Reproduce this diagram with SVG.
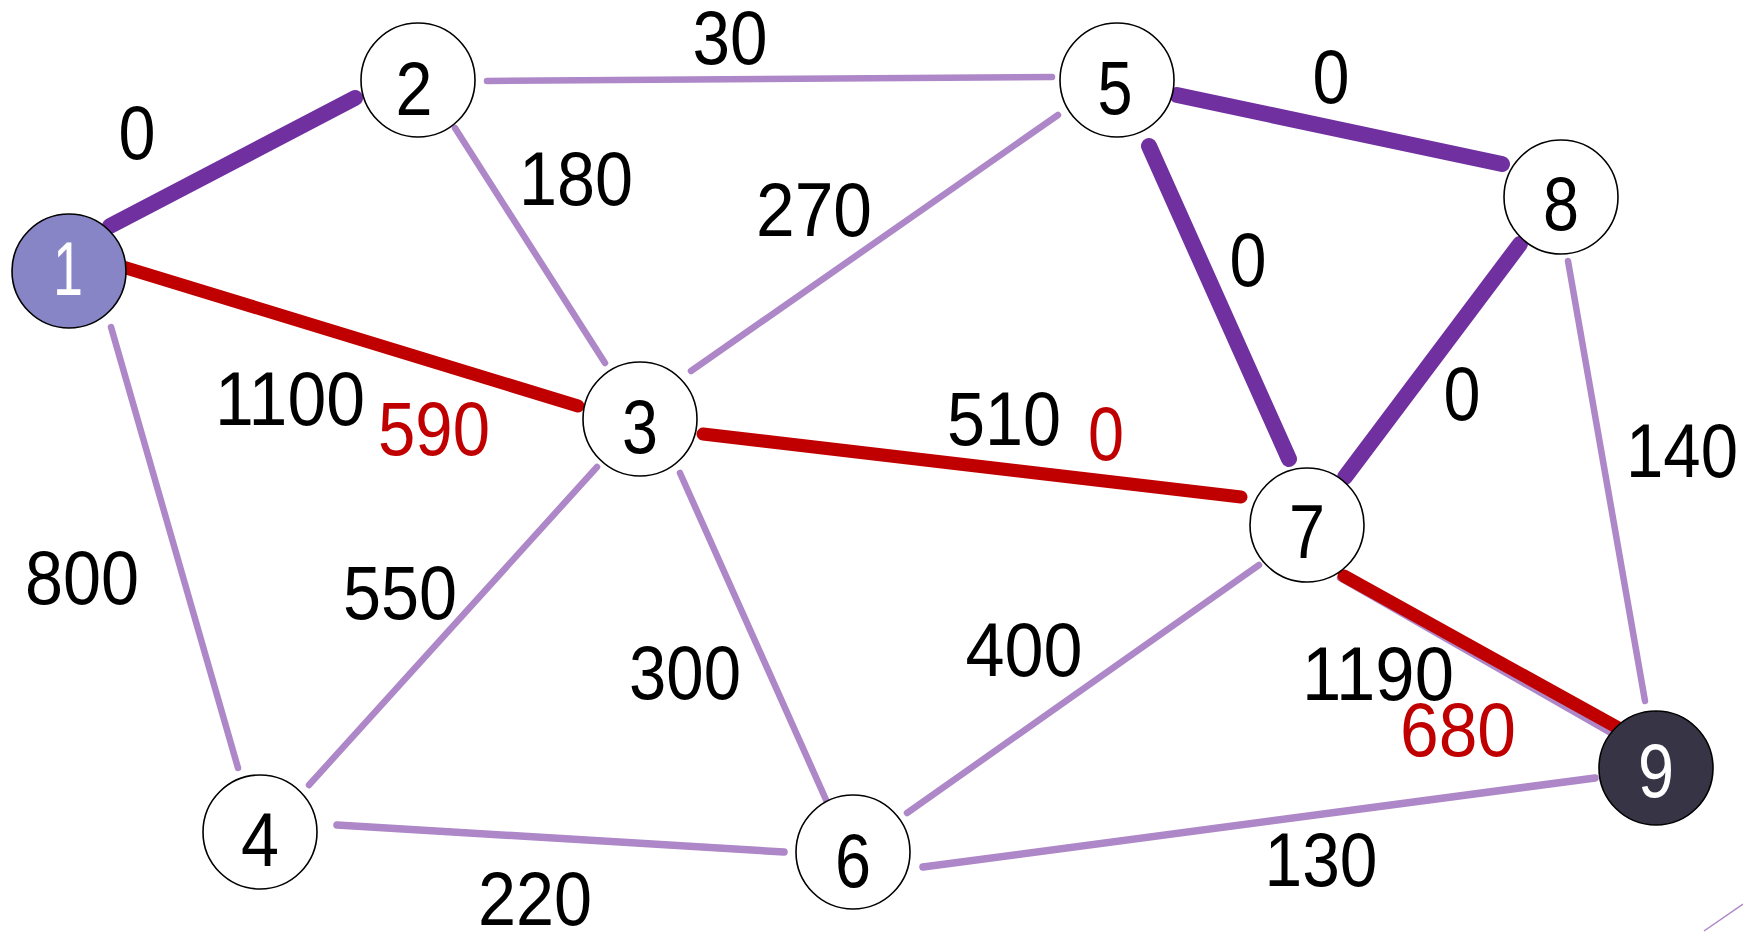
<svg xmlns="http://www.w3.org/2000/svg" width="1743" height="932" viewBox="0 0 1743 932">
<style>
.lt{stroke:#ad87c7;stroke-width:6.5;stroke-linecap:round;fill:none}
.lw{stroke-width:7.5}
.pp{stroke:#7030a0;stroke-width:16;stroke-linecap:round;fill:none}
.rd{stroke:#c00000;stroke-width:13;stroke-linecap:round;fill:none}
.nd{fill:#ffffff;stroke:#000000;stroke-width:1.6}
text{font-family:"Liberation Sans",Arial,sans-serif;font-size:76px;text-anchor:middle;fill:#000000}
.r{fill:#c00000}
.w{fill:#ffffff}
</style>
<rect width="1743" height="932" fill="#ffffff"/>
<line x1="1704" y1="931" x2="1743" y2="904" stroke="#ad87c7" stroke-width="1.5"/>
<g id="connectors">
<line class="lt" x1="487" y1="81" x2="1052" y2="77"/>
<line class="lt" x1="455" y1="128" x2="605" y2="363"/>
<line class="lt" x1="691" y1="371" x2="1058" y2="115"/>
<line class="lt" x1="111" y1="327" x2="238" y2="768"/>
<line class="lt" x1="597" y1="467" x2="309" y2="785"/>
<line class="lt" x1="680" y1="473" x2="827" y2="802"/>
<line class="lt lw" x1="337" y1="825" x2="784" y2="852"/>
<line class="lt" x1="1259" y1="565" x2="907" y2="813"/>
<line class="lt lw" x1="923" y1="867" x2="1595" y2="778"/>
<line class="lt" x1="1568" y1="261" x2="1645" y2="701"/>
<line class="lt" x1="1340" y1="578" x2="1616" y2="736"/>
<line class="pp" x1="110" y1="226" x2="355" y2="98"/>
<line class="pp" x1="1177" y1="95" x2="1502" y2="164"/>
<line class="pp" x1="1149" y1="146" x2="1289" y2="459"/>
<line class="pp" x1="1520" y1="244" x2="1345" y2="477"/>
<line class="rd" x1="123" y1="267" x2="578" y2="406"/>
<line class="rd" x1="703" y1="434" x2="1241" y2="497"/>
<line class="rd" x1="1344" y1="576" x2="1622" y2="730"/>
</g>
<g id="edge-labels">
<text x="137" y="159" textLength="37" lengthAdjust="spacingAndGlyphs">0</text>
<text x="576" y="205" textLength="114" lengthAdjust="spacingAndGlyphs">180</text>
<text x="730" y="64" textLength="75" lengthAdjust="spacingAndGlyphs">30</text>
<text x="814" y="236" textLength="116" lengthAdjust="spacingAndGlyphs">270</text>
<text x="290" y="425" textLength="150" lengthAdjust="spacingAndGlyphs">1100</text>
<text class="r" x="434" y="455" textLength="112" lengthAdjust="spacingAndGlyphs">590</text>
<text x="1331" y="103" textLength="37" lengthAdjust="spacingAndGlyphs">0</text>
<text x="1248" y="286" textLength="37" lengthAdjust="spacingAndGlyphs">0</text>
<text x="1462" y="420" textLength="37" lengthAdjust="spacingAndGlyphs">0</text>
<text x="1682" y="477" textLength="112" lengthAdjust="spacingAndGlyphs">140</text>
<text x="1004" y="445" textLength="114" lengthAdjust="spacingAndGlyphs">510</text>
<text class="r" x="1106" y="460" textLength="36" lengthAdjust="spacingAndGlyphs">0</text>
<text x="82" y="604" textLength="114" lengthAdjust="spacingAndGlyphs">800</text>
<text x="400" y="619" textLength="114" lengthAdjust="spacingAndGlyphs">550</text>
<text x="685" y="699" textLength="112" lengthAdjust="spacingAndGlyphs">300</text>
<text x="535" y="925" textLength="114" lengthAdjust="spacingAndGlyphs">220</text>
<text x="1024" y="676" textLength="117" lengthAdjust="spacingAndGlyphs">400</text>
<text x="1378" y="700" textLength="152" lengthAdjust="spacingAndGlyphs">1190</text>
<text class="r" x="1458" y="756" textLength="116" lengthAdjust="spacingAndGlyphs">680</text>
<text x="1321" y="886" textLength="113" lengthAdjust="spacingAndGlyphs">130</text>
</g>
<g id="node1"><circle cx="69" cy="271" r="57" fill="#8785c5" stroke="#000000" stroke-width="1.6"/><text class="w" x="68" y="295" textLength="30" lengthAdjust="spacingAndGlyphs">1</text></g>
<g id="node2"><circle class="nd" cx="418" cy="80" r="57"/><text x="414" y="115" textLength="37" lengthAdjust="spacingAndGlyphs">2</text></g>
<g id="node3"><circle class="nd" cx="640" cy="419" r="57"/><text x="640" y="453" textLength="36" lengthAdjust="spacingAndGlyphs">3</text></g>
<g id="node4"><circle class="nd" cx="260" cy="832" r="57"/><text x="260" y="866" textLength="38" lengthAdjust="spacingAndGlyphs">4</text></g>
<g id="node5"><circle class="nd" cx="1117" cy="80" r="57"/><text x="1115" y="114" textLength="35" lengthAdjust="spacingAndGlyphs">5</text></g>
<g id="node6"><circle class="nd" cx="853" cy="852" r="57"/><text x="853" y="887" textLength="36" lengthAdjust="spacingAndGlyphs">6</text></g>
<g id="node7"><circle class="nd" cx="1307" cy="525" r="57"/><text x="1307" y="558" textLength="36" lengthAdjust="spacingAndGlyphs">7</text></g>
<g id="node8"><circle class="nd" cx="1561" cy="197" r="57"/><text x="1561" y="230" textLength="36" lengthAdjust="spacingAndGlyphs">8</text></g>
<g id="node9"><circle cx="1656" cy="768" r="57" fill="#373545" stroke="#000000" stroke-width="1.6"/><text class="w" x="1656" y="797" textLength="36" lengthAdjust="spacingAndGlyphs">9</text></g>
</svg>
